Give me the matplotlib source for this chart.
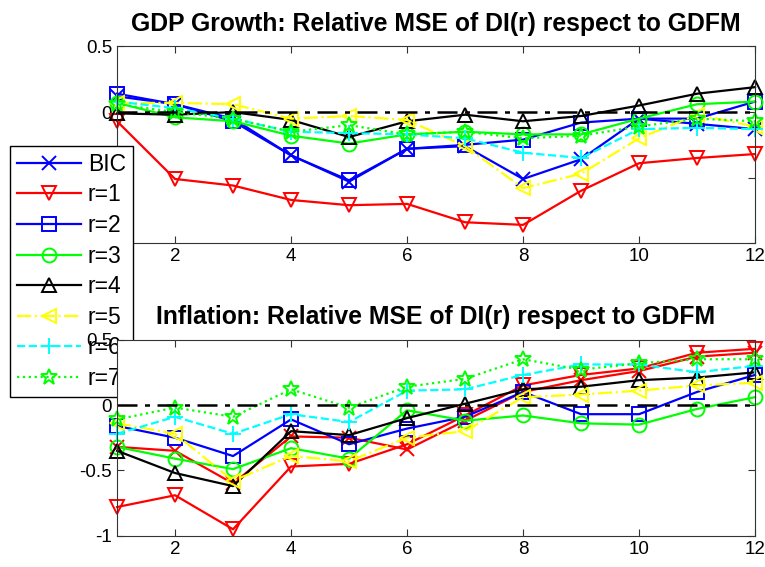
import numpy as np
import matplotlib.pyplot as plt

plt.rcParams['font.family'] = ['Liberation Sans', 'DejaVu Sans']

h = np.arange(1, 13)
labels = ['BIC', 'r=1', 'r=2', 'r=3', 'r=4', 'r=5', 'r=6', 'r=7']

# GDP growth: relative MSE
gdp_bic = [0.12, 0.06, -0.05, -0.33, -0.53, -0.28, -0.26, -0.51, -0.36, -0.05, -0.09, -0.13]
gdp_r1 = [-0.07, -0.51, -0.56, -0.67, -0.71, -0.70, -0.84, -0.86, -0.60, -0.39, -0.35, -0.32]
gdp_r2 = [0.14, 0.06, -0.07, -0.33, -0.52, -0.28, -0.25, -0.21, -0.08, -0.05, -0.05, 0.08]
gdp_r3 = [0.07, -0.04, -0.07, -0.18, -0.24, -0.17, -0.15, -0.17, -0.17, -0.05, 0.06, 0.08]
gdp_r4 = [-0.01, -0.02, 0.00, -0.06, -0.19, -0.07, -0.02, -0.07, -0.03, 0.05, 0.14, 0.19]
gdp_r5 = [0.07, 0.07, 0.06, -0.05, -0.03, -0.06, -0.26, -0.58, -0.47, -0.20, -0.02, -0.11]
gdp_r6 = [0.08, 0.03, -0.05, -0.15, -0.16, -0.17, -0.20, -0.31, -0.35, -0.13, -0.12, -0.13]
gdp_r7 = [0.06, 0.00, -0.05, -0.15, -0.10, -0.17, -0.15, -0.20, -0.18, -0.11, -0.05, -0.07]

# Inflation: relative MSE
inf_bic = [-0.32, -0.35, -0.60, -0.24, -0.25, -0.34, -0.12, 0.10, 0.19, 0.26, 0.37, 0.40]
inf_r1 = [-0.78, -0.69, -0.95, -0.47, -0.45, -0.30, -0.08, 0.15, 0.23, 0.28, 0.40, 0.43]
inf_r2 = [-0.16, -0.25, -0.39, -0.11, -0.30, -0.18, -0.09, 0.10, -0.07, -0.07, 0.10, 0.23]
inf_r3 = [-0.32, -0.41, -0.49, -0.33, -0.41, -0.04, -0.12, -0.08, -0.14, -0.15, -0.03, 0.06]
inf_r4 = [-0.35, -0.52, -0.62, -0.20, -0.23, -0.10, 0.01, 0.12, 0.14, 0.19, 0.21, 0.25]
inf_r5 = [-0.14, -0.22, -0.58, -0.39, -0.43, -0.25, -0.20, 0.06, 0.08, 0.11, 0.15, 0.17]
inf_r6 = [-0.22, -0.09, -0.22, -0.07, -0.13, 0.11, 0.12, 0.23, 0.31, 0.31, 0.25, 0.30]
inf_r7 = [-0.11, -0.02, -0.09, 0.12, -0.02, 0.14, 0.20, 0.35, 0.27, 0.32, 0.35, 0.35]

yticks = [-1, -0.5, 0, 0.5]
ytick_labels = ['-1', '-0.5', '0', '0.5']
xticks = [2, 4, 6, 8, 10, 12]

B, R, G, K, Y, C = (0, 0, 1), (1, 0, 0), (0, 1, 0), (0, 0, 0), (1, 1, 0), (0, 1, 1)


def styles(bic_color):
    return [
        dict(color=bic_color, ls='-', marker='x'),
        dict(color=R, ls='-', marker='v'),
        dict(color=B, ls='-', marker='s'),
        dict(color=G, ls='-', marker='o'),
        dict(color=K, ls='-', marker='^'),
        dict(color=Y, ls='-.', marker='<'),
        dict(color=C, ls='--', marker='+'),
        dict(color=G, ls=':', marker='*'),
    ]


def draw(ax, series, st, title):
    for s, lab, kw in zip(series, labels, st):
        ms = 12 if kw['marker'] in ('*', '+') else 10
        ax.plot(h, s, lw=1.6, ms=ms, mfc='none', mew=1.4, label=lab,
                clip_on=False, **kw)
    ax.axhline(0, color='k', ls='-.', lw=1.8, dashes=(8, 3, 2, 3))
    ax.set_xlim(1, 12)
    ax.set_ylim(-1, 0.5)
    ax.set_xticks(xticks)
    ax.set_yticks(yticks)
    ax.set_yticklabels(ytick_labels)
    ax.tick_params(direction='in', top=True, right=True, labelsize=13.5,
                   length=5, color='#333333')
    for sp in ax.spines.values():
        sp.set_color('#333333')
    ax.set_title(title, fontsize=17.8, fontweight='bold', pad=11)


fig = plt.figure(figsize=(7.65, 5.67), dpi=100)
ax1 = fig.add_axes([0.153, 0.571, 0.834, 0.347])
ax2 = fig.add_axes([0.153, 0.055, 0.834, 0.346])

draw(ax1, [gdp_bic, gdp_r1, gdp_r2, gdp_r3, gdp_r4, gdp_r5, gdp_r6, gdp_r7],
     styles(B), 'GDP Growth: Relative MSE of DI(r) respect to GDFM')
draw(ax2, [inf_bic, inf_r1, inf_r2, inf_r3, inf_r4, inf_r5, inf_r6, inf_r7],
     styles(R), 'Inflation: Relative MSE of DI(r) respect to GDFM')

leg = ax1.legend(loc='upper left', bbox_to_anchor=(10 / 765, 1 - 146 / 567),
                 bbox_transform=fig.transFigure, fontsize=16.5, frameon=True,
                 fancybox=False, edgecolor='k', framealpha=1,
                 handlelength=2.8, handletextpad=0.3, labelspacing=0.33,
                 borderpad=0.3, borderaxespad=0)
leg.get_frame().set_linewidth(1.0)

fig.savefig('out.png', dpi=100)
